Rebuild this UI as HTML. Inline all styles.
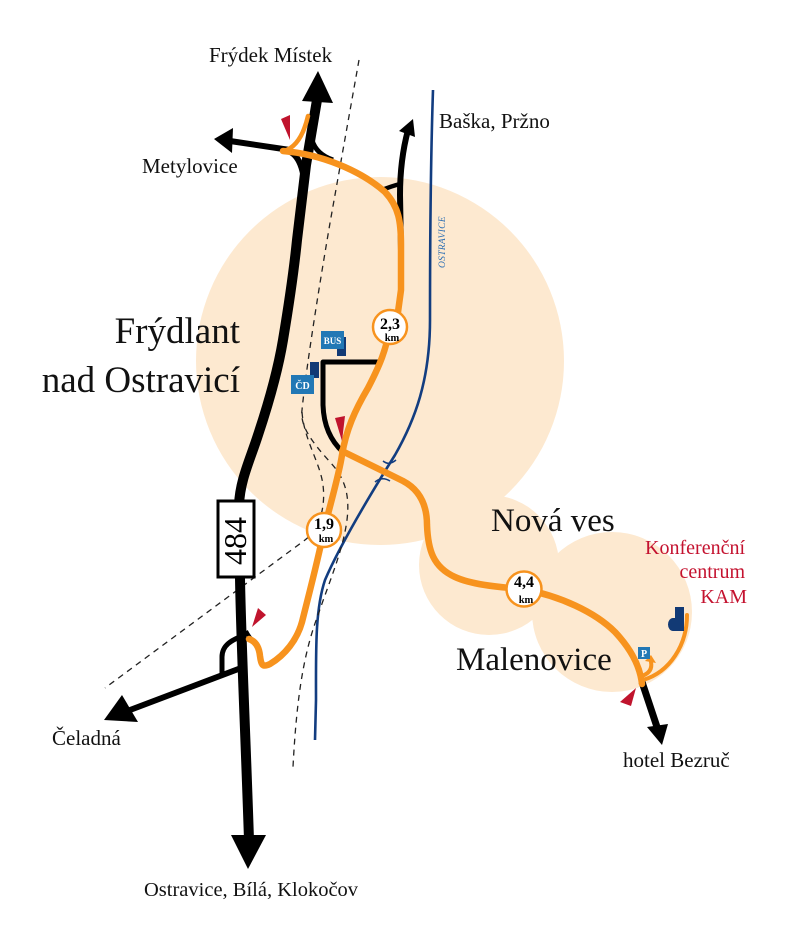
<!DOCTYPE html>
<html><head><meta charset="utf-8"><style>
html,body{margin:0;padding:0;background:#fff;}
svg{display:block;}
text{font-family:"Liberation Serif","DejaVu Serif",serif;}
</style></head><body>
<svg width="787" height="945" viewBox="0 0 787 945" xmlns="http://www.w3.org/2000/svg">
<rect width="787" height="945" fill="#fff"/>
<!-- peach areas -->
<g fill="#fde9d0">
<circle cx="380" cy="361" r="184"/>
<circle cx="489" cy="565" r="70"/>
<circle cx="612" cy="612" r="80"/>
</g>
<!-- river -->
<path d="M433,90 C431,150 430,250 430,320 C430,380 415,420 395,455 C370,495 340,545 325,580 C315,610 316,650 316,700 L315,740" fill="none" stroke="#123d80" stroke-width="2.6"/>
<text transform="translate(445,268) rotate(-90)" font-size="9.5" font-style="italic" fill="#2d6fb3" letter-spacing="0.3">OSTRAVICE</text>
<!-- rail -->
<g fill="none" stroke="#222" stroke-width="1.3" stroke-dasharray="6,5">
<path d="M359,60 L330,223 C322,270 307,360 302,410 C300,425 310,440 330,462 C345,478 350,495 347,520 C343,550 330,580 318,615 C305,650 297,690 293,767"/>
<path d="M302,412 C304,440 320,462 323,485 C326,510 318,530 305,540 L105,688"/>
</g>
<!-- black roads -->
<g fill="none" stroke="#000" stroke-linecap="butt" stroke-linejoin="round">
<path d="M317,100 L306,165 L297,240 C294,270 288,310 283,340 C278,370 268,405 258,435 C250,460 240,480 239,505 L240,578 C241,640 245,720 249,840" stroke-width="10"/>
<path d="M290,150 L230,141" stroke-width="6"/>
<path d="M284,150 Q303,152 305,190" stroke-width="6"/>
<path d="M312,140 Q316,154 333,160" stroke-width="5"/>
<path d="M401,250 L400,195 C400,165 404,145 408,130" stroke-width="6"/>
<path d="M400,184 Q392,186 382,190" stroke-width="4.5"/>
<path d="M241,668 L130,710" stroke-width="6"/>
<path d="M222,673 L222,657 C222,645 232,640 242,636" stroke-width="5"/>
<path d="M246,631 Q249,637 253,641" stroke-width="4"/>
<path d="M642,682 L658,730" stroke-width="7"/>
<path d="M378,362 H323 V405 Q324,435 343,452" stroke-width="5"/>
</g>
<g fill="#000">
<polygon points="318,71 302,101 333,103"/>
<polygon points="214,139 233,128 232,153"/>
<polygon points="413,119 399,131 415,137"/>
<polygon points="248,869 231,835 266,835"/>
<polygon points="104,720 122,695 138,722"/>
<polygon points="662,745 647,727 668,724"/>
</g>
<!-- 484 box -->
<rect x="218" y="501" width="36" height="76" fill="#fff" stroke="#000" stroke-width="3"/>
<text transform="translate(246,541) rotate(-90)" font-size="32" text-anchor="middle" fill="#000">484</text>
<!-- orange routes -->
<g fill="none" stroke="#f7931e" stroke-linecap="round" stroke-linejoin="round">
<path d="M283,151 C320,154 360,170 385,192 C399,207 401,222 401,245 L401,290 L398,312" stroke-width="6.5"/>
<path d="M390,327 C386,350 380,365 368,388 C355,410 346,430 342,455 C339,475 330,505 324,530" stroke-width="6.5"/>
<path d="M324,530 C318,560 310,590 302,622 C297,640 285,655 270,664 C262,668 261,664 260,656 C259,646 255,641 249,639" stroke-width="6.5"/>
<path d="M342,451 L403,481 C420,490 427,505 427,525 C428,550 433,567 455,577 C470,584 495,587 523,589" stroke-width="6.5"/>
<path d="M523,589 C560,596 595,612 615,632 C630,648 640,665 642,684" stroke-width="6.5"/>
<path d="M284,151 Q301,146 308,116" stroke-width="4.5"/>
<path d="M687,615 C687,645 670,672 643,680" stroke-width="4"/>
<path d="M642,676 Q653,672 651,662" stroke-width="4"/>
</g>
<polygon points="645,661 651,655 656,663" fill="#f7931e"/>
<!-- bridge -->
<g fill="none" stroke="#123d80" stroke-width="1.5">
<path d="M383,461 Q389,466 396,460"/>
<path d="M375,482 Q382,476 390,481"/>
</g>
<!-- km circles -->
<g fill="#fff" stroke="#f7931e" stroke-width="2.5">
<circle cx="390" cy="327" r="17"/>
<circle cx="324" cy="530" r="17"/>
<circle cx="524" cy="589" r="17.5"/>
</g>
<g font-weight="bold" fill="#000" text-anchor="middle">
<text x="390" y="329" font-size="16">2,3</text>
<text x="392" y="341" font-size="10.5">km</text>
<text x="324" y="529" font-size="16">1,9</text>
<text x="326" y="542" font-size="10.5">km</text>
<text x="524" y="587" font-size="16">4,4</text>
<text x="526" y="603" font-size="10.5">km</text>
</g>
<!-- icons -->
<rect x="337" y="337" width="9" height="19" fill="#123a75"/>
<rect x="321" y="331" width="23" height="18" fill="#2278b5"/>
<text x="332.5" y="344" font-size="9" font-weight="bold" fill="#fff" text-anchor="middle">BUS</text>
<rect x="310" y="362" width="9" height="16" fill="#123a75"/>
<rect x="291" y="375" width="23" height="19" fill="#2278b5"/>
<text x="302.5" y="389" font-size="10" font-weight="bold" fill="#fff" text-anchor="middle">ČD</text>
<rect x="638" y="647" width="12" height="12" fill="#2278b5"/>
<text x="644" y="657" font-size="10" font-weight="bold" fill="#fff" text-anchor="middle">P</text>
<path d="M675,607 H684 V631 H673 A5,6.5 0 0 1 673,618 H675 Z" fill="#123a75"/>
<!-- red flags -->
<g fill="#c0142d">
<polygon points="281,119 290,115 290,140"/>
<polygon points="335,418 345,416 342,441"/>
<polygon points="252,627 258,608 266,615"/>
<polygon points="620,702 636,688 631,706"/>
</g>
<!-- labels -->
<g fill="#111" font-size="21">
<text x="209" y="62">Frýdek Místek</text>
<text x="142" y="173">Metylovice</text>
<text x="439" y="128">Baška, Pržno</text>
<text x="52" y="745">Čeladná</text>
<text x="144" y="896" font-size="20.5">Ostravice, Bílá, Klokočov</text>
<text x="623" y="767">hotel Bezruč</text>
</g>
<g fill="#111" font-size="37" text-anchor="end">
<text x="240" y="343">Frýdlant</text>
<text x="240" y="392">nad Ostravicí</text>
</g>
<g fill="#111" font-size="33">
<text x="491" y="531">Nová ves</text>
<text x="456" y="670">Malenovice</text>
</g>
<g fill="#c4122f" font-size="20" text-anchor="end">
<text x="745" y="554">Konferenční</text>
<text x="745" y="578">centrum</text>
<text x="747" y="603">KAM</text>
</g>
</svg>
</body></html>
